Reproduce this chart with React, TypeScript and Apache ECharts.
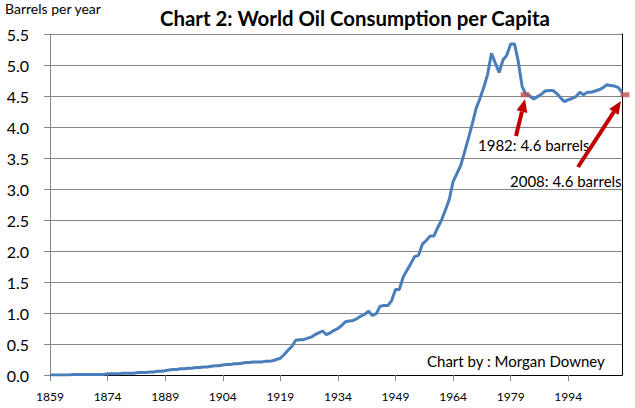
import React, { useEffect, useRef } from "react";
import * as echarts from "echarts";

const startYear = 1859;
const endYear = 2008;
const years: string[] = Array.from({ length: endYear - startYear + 1 }, (_, i) => String(startYear + i));

// Barrels per person per year, 1859..2008
const consumption: number[] = [
  0.0, 0.0, 0.0, 0.0, 0.0, 0.0, 0.01, 0.01, 0.01, 0.01,
  0.01, 0.01, 0.01, 0.01, 0.01, 0.02, 0.02, 0.02, 0.02, 0.03,
  0.03, 0.03, 0.03, 0.04, 0.04, 0.04, 0.05, 0.05, 0.06, 0.06,
  0.07, 0.08, 0.09, 0.09, 0.1, 0.1, 0.11, 0.11, 0.12, 0.12,
  0.13, 0.13, 0.14, 0.15, 0.15, 0.16, 0.17, 0.17, 0.18, 0.18,
  0.19, 0.2, 0.2, 0.21, 0.21, 0.21, 0.22, 0.22, 0.23, 0.25,
  0.27, 0.33, 0.4, 0.46, 0.56, 0.57, 0.57, 0.59, 0.61, 0.65,
  0.68, 0.71, 0.65, 0.68, 0.72, 0.75, 0.8, 0.86, 0.87, 0.88,
  0.91, 0.95, 0.98, 1.03, 0.96, 0.99, 1.11, 1.12, 1.12, 1.2,
  1.38, 1.38, 1.58, 1.69, 1.8, 1.91, 1.93, 2.11, 2.17, 2.24,
  2.24, 2.38, 2.5, 2.66, 2.83, 3.12, 3.25, 3.38, 3.6, 3.82,
  4.05, 4.3, 4.46, 4.64, 4.85, 5.19, 5.03, 4.88, 5.08, 5.16,
  5.34, 5.34, 5.05, 4.65, 4.52, 4.5, 4.45, 4.49, 4.53, 4.58,
  4.59, 4.59, 4.54, 4.47, 4.41, 4.44, 4.46, 4.49, 4.56, 4.52,
  4.56, 4.56, 4.58, 4.6, 4.63, 4.68, 4.67, 4.66, 4.64, 4.56,
];

const markerYears: string[] = ["1982", "2008"];
const markerValues: number[] = [4.52, 4.52];

const yTicks = { min: 0, max: 5.5, interval: 0.5 };

const FONT = "Lato, 'Liberation Sans', sans-serif";
const ARROW = "#C00000";

function arrow(x1: number, y1: number, x2: number, y2: number) {
  const dx = x2 - x1;
  const dy = y2 - y1;
  const len = Math.sqrt(dx * dx + dy * dy);
  const ux = dx / len;
  const uy = dy / len;
  const L = 13;
  const W = 5.5;
  const bx = x2 - ux * L;
  const by = y2 - uy * L;
  return [
    {
      type: "line",
      shape: { x1, y1, x2: bx, y2: by },
      style: { stroke: ARROW, lineWidth: 4 },
      z: 10,
    },
    {
      type: "polygon",
      shape: {
        points: [
          [x2, y2],
          [bx - uy * W, by + ux * W],
          [bx + uy * W, by - ux * W],
        ],
      },
      style: { fill: ARROW },
      z: 10,
    },
  ];
}

export default function App() {
  const ref = useRef<HTMLDivElement>(null);
  useEffect(() => {
    if (!ref.current) return;
    const chart = echarts.init(ref.current, null, { renderer: "svg" });
    chart.setOption({
      animation: false,
      backgroundColor: "#ffffff",
      title: {
        text: "Chart 2: World Oil Consumption per Capita",
        left: 155,
        top: 3,
        textStyle: { fontFamily: FONT, fontWeight: "bold", fontSize: 20.4, color: "#000" },
      },
      grid: { left: 50, right: 13, top: 34, bottom: 33, containLabel: false },
      xAxis: [
        {
          type: "category",
          data: years,
          boundaryGap: false,
          axisLine: { lineStyle: { color: "#868686", width: 1 } },
          axisTick: { show: true, interval: 14, length: 6, lineStyle: { color: "#868686" } },
          axisLabel: { interval: 14, fontFamily: FONT, fontSize: 12, color: "#000", margin: 15 },
          splitLine: { show: false },
        },
        {
          type: "category",
          data: years,
          boundaryGap: false,
          position: "top",
          axisLine: { lineStyle: { color: "#000", width: 1 } },
          axisTick: { show: false },
          axisLabel: { show: false },
        },
      ],
      yAxis: [
        {
          type: "value",
          min: yTicks.min,
          max: yTicks.max,
          interval: yTicks.interval,
          axisLine: { show: true, lineStyle: { color: "#868686", width: 1 } },
          axisTick: { show: true, length: 6, lineStyle: { color: "#868686" } },
          axisLabel: {
            fontFamily: FONT,
            fontSize: 16,
            color: "#000",
            margin: 21,
            formatter: (v: number) => v.toFixed(1),
          },
          splitLine: { show: true, lineStyle: { color: "#868686", width: 1 } },
        },
        {
          type: "value",
          min: yTicks.min,
          max: yTicks.max,
          interval: yTicks.interval,
          position: "right",
          axisLine: { show: true, lineStyle: { color: "#000", width: 1 } },
          axisTick: { show: false },
          axisLabel: { show: false },
          splitLine: { show: false },
        },
      ],
      series: [
        {
          type: "line",
          data: consumption,
          showSymbol: false,
          symbol: "none",
          lineStyle: { color: "#4A7EBB", width: 3 },
          z: 3,
        },
        {
          type: "scatter",
          data: markerYears.map((y, i) => [y, markerValues[i]]),
          symbol: "rect",
          symbolSize: [9, 5],
          symbolOffset: [3, 0],
          itemStyle: { color: "#C0504D" },
          z: 5,
        },
      ],
      graphic: [
        {
          type: "text",
          left: 5,
          top: 1,
          style: { text: "Barrels per year", fontFamily: FONT, fontSize: 14, fill: "#000" },
        },
        {
          type: "text",
          x: 478,
          y: 145,
          style: { text: "1982: 4.6 barrels", fontFamily: FONT, fontSize: 15, fill: "#000", verticalAlign: "middle" },
          z: 10,
        },
        {
          type: "text",
          x: 510,
          y: 181,
          style: { text: "2008: 4.6 barrels", fontFamily: FONT, fontSize: 15, fill: "#000", verticalAlign: "middle" },
          z: 10,
        },
        {
          type: "text",
          x: 427,
          y: 361,
          style: { text: "Chart by : Morgan Downey", fontFamily: FONT, fontSize: 15, fill: "#000", verticalAlign: "middle" },
          z: 10,
        },
        ...arrow(516, 136, 525, 99),
        ...arrow(578, 167, 621, 101),
      ],
    });
    return () => chart.dispose();
  }, []);
  return (
    <div
      ref={ref}
      style={{ position: "fixed", left: 0, top: 0, width: 635, height: 408 }}
    />
  );
}
